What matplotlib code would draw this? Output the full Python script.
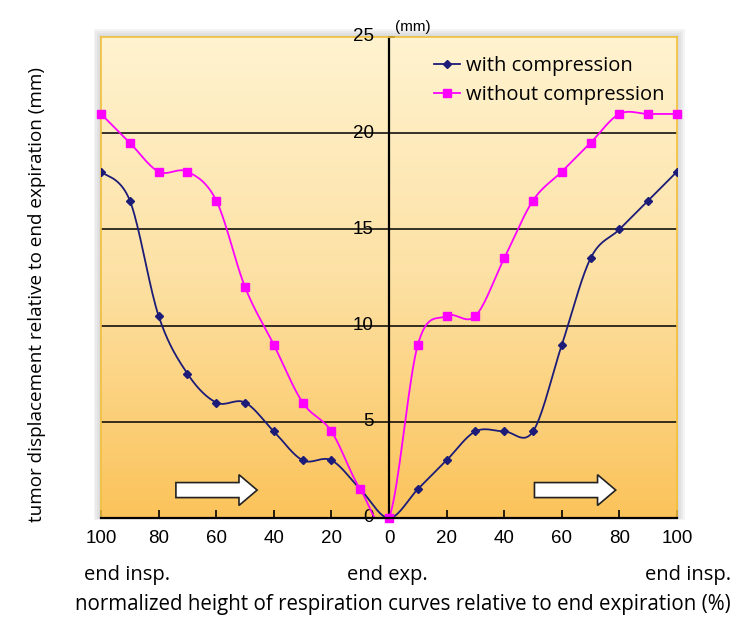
import numpy as np
import matplotlib as mpl
import matplotlib.pyplot as plt
from matplotlib.patches import FancyArrow, Rectangle
from matplotlib.colors import LinearSegmentedColormap

# data
x_pos = [-100, -90, -80, -70, -60, -50, -40, -30, -20, -10, 0,
         10, 20, 30, 40, 50, 60, 70, 80, 90, 100]
with_comp = [18, 16.5, 10.5, 7.5, 6, 6, 4.5, 3, 3, 1.5, 0,
             1.5, 3, 4.5, 4.5, 4.5, 9, 13.5, 15, 16.5, 18]
without_comp = [21, 19.5, 18, 18, 16.5, 12, 9, 6, 4.5, 1.5, 0,
                9, 10.5, 10.5, 13.5, 16.5, 18, 19.5, 21, 21, 21]
x_ticks = [-100, -80, -60, -40, -20, 0, 20, 40, 60, 80, 100]
x_ticklabels = ['100', '80', '60', '40', '20', '0', '20', '40', '60', '80', '100']
y_ticks = [0, 5, 10, 15, 20, 25]

NAVY = "#1c1c78"
MAGENTA = "#ff00ff"
TICKFONT = "Liberation Sans"
TEXTFONT = "Open Sans"


# excel-like smoothed line (cubic bezier through the points)
def smooth(xs, ys, n=20):
    p = np.column_stack([xs, ys]).astype(float)
    ext = np.vstack([p[0], p, p[-1]])
    out = []
    for i in range(len(p) - 1):
        p0, p1, p2, p3 = ext[i], ext[i + 1], ext[i + 2], ext[i + 3]
        c1 = p1 + (p2 - p0) / 6
        c2 = p2 - (p3 - p1) / 6
        t = np.linspace(0, 1, n)[:, None]
        seg = ((1 - t) ** 3) * p1 + 3 * ((1 - t) ** 2) * t * c1 \
            + 3 * (1 - t) * t ** 2 * c2 + t ** 3 * p2
        out.append(seg if i == 0 else seg[1:])
    out = np.vstack(out)
    return out[:, 0], out[:, 1]


fig = plt.figure(figsize=(7.5, 6.34), dpi=100)
ax = fig.add_axes([0.1347, 0.183, 0.768, 0.7587])
ax.set_xlim(-100, 100)
ax.set_ylim(0, 25)

# soft drop shadow behind the plot area
for k in range(4):
    d = (4 - k) * 0.0025
    fig.patches.append(Rectangle((0.1347 - d, 0.183 - d * 0.3),
                                 0.768 + d * 2.0, 0.7587 + d * 1.6,
                                 transform=fig.transFigure, facecolor="#909090",
                                 alpha=0.09, edgecolor="none", zorder=-5))

# gradient background
cmap = LinearSegmentedColormap.from_list("bg", ["#fbc35a", "#fde1a4", "#fff3d0"])
grad = np.linspace(0, 1, 256)[:, None]
ax.imshow(grad, extent=[0, 1, 0, 1], transform=ax.transAxes, origin="lower",
          aspect="auto", cmap=cmap, zorder=0)

# gridlines and center axis
for v in y_ticks[1:-1]:
    ax.axhline(v, color="black", lw=1.1, zorder=1)
ax.plot([0, 0], [0, 25], color="black", lw=1.6, zorder=2)
ax.plot([0, 1.8], [25, 25], color="black", lw=1.3, zorder=2, clip_on=False)

for v in y_ticks:
    ax.annotate(str(v), (0, v), xytext=(-11, 0), textcoords="offset points",
                ha="right", va="center", fontsize=13.5, family=TICKFONT)
ax.annotate("(mm)", (0, 25), xytext=(4, 2), textcoords="offset points",
            ha="left", va="bottom", fontsize=11, family=TICKFONT)

# curves
sx, sy = smooth(x_pos, with_comp)
ax.plot(sx, sy, color=NAVY, lw=1.3, zorder=4)
ax.plot(x_pos, with_comp, linestyle="none", marker="D", ms=4.2,
        color=NAVY, zorder=5)
sx, sy = smooth(x_pos, without_comp)
ax.plot(sx, sy, color=MAGENTA, lw=1.3, zorder=4)
ax.plot(x_pos, without_comp, linestyle="none", marker="s", ms=5.5,
        color=MAGENTA, zorder=5, clip_on=False)

# legend handles
ax.plot([], [], color=NAVY, lw=1.3, marker="D", ms=4.2, label="with compression")
ax.plot([], [], color=MAGENTA, lw=1.3, marker="s", ms=5.5, label="without compression")
leg = ax.legend(loc="upper right", bbox_to_anchor=(1.0, 0.985), frameon=False,
                prop={"family": TEXTFONT, "size": 14.5}, handlelength=1.3,
                handletextpad=0.3, labelspacing=0.45, borderaxespad=0.2)

# direction arrows
for x0 in [-74, 50.5]:
    ax.add_patch(FancyArrow(x0, 1.45, 28.2, 0, width=0.78, head_width=1.6,
                            head_length=6.3, length_includes_head=True,
                            facecolor="white", edgecolor="#222222", lw=1.2,
                            zorder=3))

# frame
for side in ["top", "left", "right"]:
    ax.spines[side].set_color("#f2bf3a")
    ax.spines[side].set_linewidth(1.2)
ax.spines["bottom"].set_color("black")
ax.spines["bottom"].set_linewidth(1.6)
ax.spines["bottom"].set_zorder(6)

ax.set_yticks([])
ax.set_xticks(x_ticks)
ax.set_xticklabels(x_ticklabels, family=TICKFONT, fontsize=13.5)
ax.tick_params(axis="x", direction="in", length=6, width=1.2, pad=9,
               color="black")

# labels under the axis
fig.text(0.170, 0.093, "end insp.", ha="center", va="center",
         family=TEXTFONT, fontsize=14.5)
fig.text(0.517, 0.093, "end exp.", ha="center", va="center",
         family=TEXTFONT, fontsize=14.5)
fig.text(0.918, 0.093, "end insp.", ha="center", va="center",
         family=TEXTFONT, fontsize=14.5)
fig.text(0.537, 0.047, "normalized height of respiration curves relative to end expiration (%)",
         ha="center", va="center", family=TEXTFONT, fontsize=14.8)
fig.text(0.049, 0.535, "tumor displacement relative to end expiration (mm)",
         ha="center", va="center", rotation=90, family=TEXTFONT, fontsize=13.6)

fig.savefig("out.png", dpi=100)
